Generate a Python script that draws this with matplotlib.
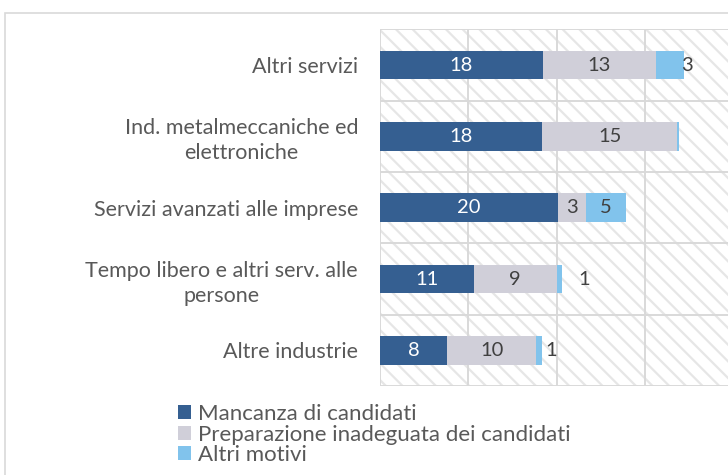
import matplotlib.pyplot as plt
from matplotlib.patches import Rectangle, Patch

plt.rcParams['font.family'] = ['Lato', 'DejaVu Sans']
plt.rcParams['hatch.linewidth'] = 1.6

categories = ['Altri servizi',
              'Ind. metalmeccaniche ed\nelettroniche',
              'Servizi avanzati alle imprese',
              'Tempo libero e altri serv. alle\npersone',
              'Altre industrie']
mancanza = [18.4, 18.3, 20.1, 10.6, 7.6]
preparazione = [12.9, 15.4, 3.2, 9.4, 10.1]
altri = [3.1, 0.2, 4.6, 0.6, 0.6]
series_names = ['Mancanza di candidati',
                'Preparazione inadeguata dei candidati',
                'Altri motivi']
colors = ['#355F91', '#D0CFD9', '#81C3EC']
text_col = '#595959'
grid_col = '#D9D9D9'

fig = plt.figure(figsize=(7.28, 4.75), dpi=100)
# outer chart frame
fig.patches.append(Rectangle((5/728, -0.1), 1.2, 1.1 - 13/475, transform=fig.transFigure,
                             fill=False, edgecolor=grid_col, lw=1.2))

ax = fig.add_axes([380.3/728, (475-386)/475, (733-380.3)/728, (386-29.5)/475])
ax.add_patch(Rectangle((0, 0), 1, 1, transform=ax.transAxes, facecolor='white',
                       edgecolor='#E6E6E6', hatch='\\\\', lw=0, zorder=0))

y = list(range(len(categories)))
h = 0.4
ax.barh(y, mancanza, height=h, color=colors[0], zorder=3)
left2 = mancanza
ax.barh(y, preparazione, left=left2, height=h, color=colors[1], zorder=3)
left3 = [a + b for a, b in zip(mancanza, preparazione)]
ax.barh(y, altri, left=left3, height=h, color=colors[2], zorder=3)

ax.set_xlim(0, 40)
ax.set_ylim(4.5, -0.5)
for v in [0, 10, 20, 30, 40]:
    ax.axvline(v, color=grid_col, lw=1.4, zorder=1)
for v in [-0.5, 0.5, 1.5, 2.5, 3.5, 4.5]:
    ax.axhline(v, color=grid_col, lw=1.4, zorder=1)
for s in ax.spines.values():
    s.set_visible(False)
ax.set_xticks([])
ax.set_yticks(y)
ax.set_yticklabels(categories, fontsize=15.5, color=text_col, multialignment='center',
                   linespacing=1.3)
ax.tick_params(axis='y', length=0, pad=16)

fs = 14.5
for i in y:
    ax.text(mancanza[i] / 2, i, f'{mancanza[i]:.0f}', ha='center', va='center',
            color='white', fontsize=fs, zorder=4)
    ax.text(left2[i] + preparazione[i] / 2, i, f'{preparazione[i]:.0f}', ha='center',
            va='center', color='#404040', fontsize=fs, zorder=4)
# small "altri" labels sit just outside the bar end
out_dx = [-2, 0, 0, 16, 4]
for i in y:
    if altri[i] < 0.5:
        continue
    if altri[i] >= 4:
        ax.text(left3[i] + altri[i] / 2, i, f'{altri[i]:.0f}', ha='center', va='center',
                color='#404040', fontsize=fs, zorder=4)
    else:
        ax.annotate(f'{altri[i]:.0f}', (left3[i] + altri[i], i), xytext=(out_dx[i] * 0.72, 0),
                    textcoords='offset points', ha='left', va='center',
                    color='#404040', fontsize=fs, zorder=4)

handles = [Patch(facecolor=c, edgecolor='none') for c in colors]
fig.legend(handles, series_names, loc='upper left', bbox_to_anchor=(167/728, 1 - 393/475),
           frameon=False, fontsize=16, labelcolor=text_col, handlelength=0.6,
           handleheight=0.6, handletextpad=0.3, labelspacing=0.02, borderpad=0)

fig.savefig('out.png', dpi=100)
